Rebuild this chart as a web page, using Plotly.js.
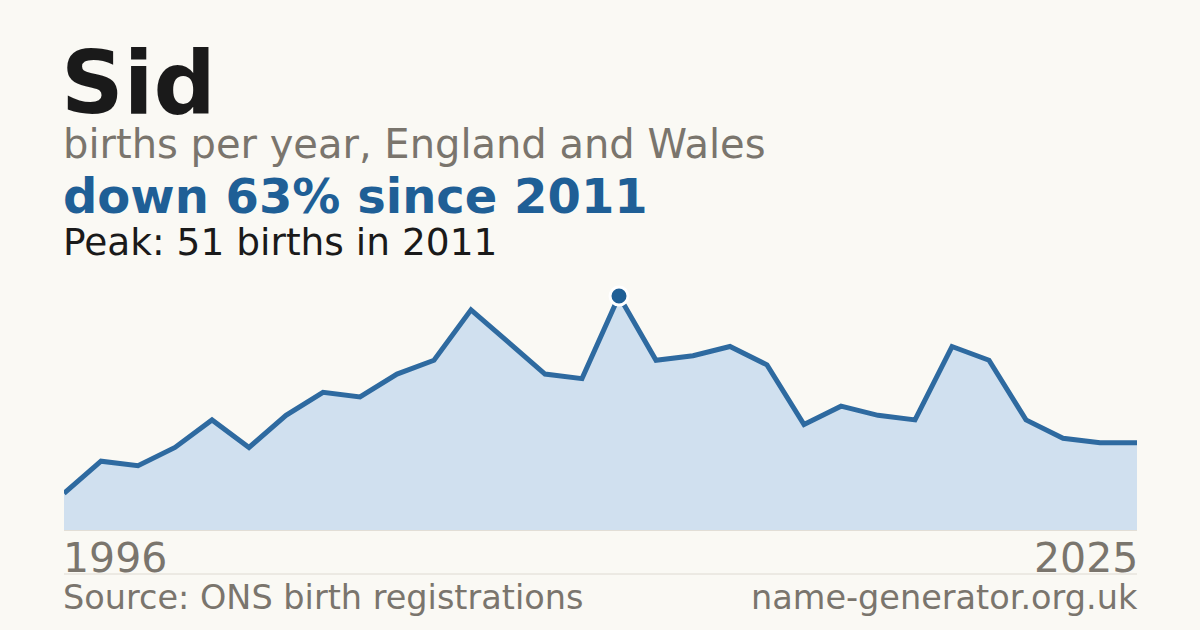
<!DOCTYPE html>
<html>
<head>
<meta charset="utf-8">
<script src="https://cdn.plot.ly/plotly-3.0.1.min.js"></script>
<style>
html,body{margin:0;padding:0;background:#faf9f4;}
#chart{width:1200px;height:630px;}
</style>
</head>
<body>
<div id="chart"></div>
<script>
const years = [1996,1997,1998,1999,2000,2001,2002,2003,2004,2005,2006,2007,2008,2009,2010,2011,2012,2013,2014,2015,2016,2017,2018,2019,2020,2021,2022,2023,2024,2025];
const births = [8,15,14,18,24,18,25,30,29,34,37,48,41,34,33,51,37,38,40,36,23,27,25,24,40,37,24,20,19,19];
const nameTitle = "Sid";
const subtitle = "births per year, England and Wales";
const changeText = "down 63% since 2011";
const peakText = "Peak: 51 births in 2011";
const startLabel = "1996";
const endLabel = "2025";
const sourceText = "Source: ONS birth registrations";
const siteText = "name-generator.org.uk";

const W = 1200, H = 630;
const L = 64, R = 63, T = 280, B = 100;
const plotW = W - L - R, plotH = H - T - B;
// page pixel -> paper coordinate
const px = x => (x - L) / plotW;
const py = y => (H - B - y) / plotH;

const peakIdx = births.indexOf(Math.max(...births));

const FONT = "DejaVu Sans, Verdana, sans-serif";
const GRAY = "#7a756d";
const BLUE = "#1f5f96";

function ann(text, xPix, yPix, size, color, bold, xanchor) {
  return {
    text: bold ? "<b>" + text + "</b>" : text,
    xref: "paper", yref: "paper",
    x: px(xPix), y: py(yPix),
    xanchor: xanchor || "left", yanchor: "middle",
    showarrow: false,
    font: {family: FONT, size: size, color: color},
    borderpad: 0
  };
}

const traces = [
  {
    x: years, y: births,
    type: "scatter", mode: "lines",
    fill: "tozeroy", fillcolor: "#d0e0ef",
    line: {color: "#2e6aa0", width: 5},
    hoverinfo: "skip"
  },
  {
    x: [years[peakIdx]], y: [births[peakIdx]],
    type: "scatter", mode: "markers",
    marker: {size: 18, color: BLUE, line: {color: "#ffffff", width: 3}},
    cliponaxis: false,
    hoverinfo: "skip"
  }
];

const layout = {
  width: W, height: H,
  paper_bgcolor: "#faf9f4", plot_bgcolor: "rgba(0,0,0,0)",
  margin: {l: L, r: R, t: T, b: B, pad: 0},
  showlegend: false,
  xaxis: {range: [years[0], years[years.length-1]], showgrid: false, zeroline: false,
          showticklabels: false, ticks: "", showline: true, linecolor: "#e2ded6", linewidth: 1, fixedrange: true},
  yaxis: {range: [0, 54.5], showgrid: false, zeroline: false, showticklabels: false,
          ticks: "", showline: false, fixedrange: true},
  annotations: [
    ann(nameTitle, 60, 83, 87, "#1a1a1a", true),
    ann(subtitle, 62, 144, 40, GRAY, false),
    ann(changeText, 62, 196, 48, BLUE, true),
    ann(peakText, 62, 242, 37.5, "#1a1a1a", false),
    ann(startLabel, 62, 558, 41, GRAY, false),
    ann(endLabel, 1139, 558, 41, GRAY, false, "right"),
    ann(sourceText, 62, 597, 33.5, GRAY, false),
    ann(siteText, 1139, 597, 33.5, GRAY, false, "right")
  ],
  shapes: [
    {type: "line", xref: "paper", yref: "paper", x0: 0, x1: 1, y0: py(574), y1: py(574),
     line: {color: "#dedad2", width: 1}}
  ]
};

Plotly.newPlot("chart", traces, layout, {staticPlot: true, displayModeBar: false});
</script>
</body>
</html>
